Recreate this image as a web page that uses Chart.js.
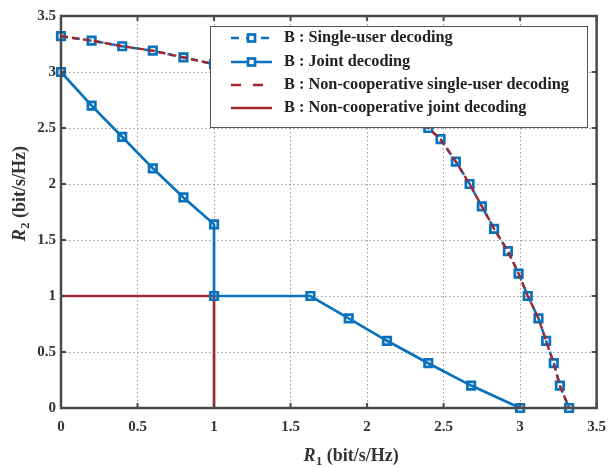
<!DOCTYPE html>
<html><head><meta charset="utf-8">
<script src="https://cdn.jsdelivr.net/npm/chart.js@4/dist/chart.umd.min.js"></script>
<style>html,body{margin:0;padding:0;background:#fff;}canvas{display:block}</style>
</head><body>
<canvas id="c" width="616" height="467"></canvas>
<script>
// ---- data ----
const X_TICKS = [0, 0.5, 1, 1.5, 2, 2.5, 3, 3.5];
const Y_TICKS = [0, 0.5, 1, 1.5, 2, 2.5, 3, 3.5];
const X_TICK_LABELS = ['0', '0.5', '1', '1.5', '2', '2.5', '3', '3.5'];
const Y_TICK_LABELS = ['0', '0.5', '1', '1.5', '2', '2.5', '3', '3.5'];
const SERIES_NAMES = [
  'B : Single-user decoding',
  'B : Joint decoding',
  'B : Non-cooperative single-user decoding',
  'B : Non-cooperative joint decoding'
];
const X_TITLE = ['R', '1', ' (bit/s/Hz)'];
const Y_TITLE = ['R', '2', ' (bit/s/Hz)'];

// B : Single-user decoding
const SU_X = [0, 0.2, 0.4, 0.6, 0.8, 1.0, 1.2, 1.4, 1.6, 1.8, 2.0, 2.2, 2.4, 2.48, 2.58, 2.67, 2.75, 2.83, 2.92, 2.99, 3.05, 3.12, 3.17, 3.22, 3.26, 3.32];
const SU_Y = [3.32, 3.28, 3.23, 3.19, 3.13, 3.07, 3.01, 2.94, 2.87, 2.79, 2.71, 2.62, 2.5, 2.4, 2.2, 2.0, 1.8, 1.6, 1.4, 1.2, 1.0, 0.8, 0.6, 0.4, 0.2, 0];
// B : Joint decoding
const JD_X = [0, 0.2, 0.4, 0.6, 0.8, 1.0, 1.0, 1.63, 1.88, 2.13, 2.4, 2.68, 3.0];
const JD_Y = [3.0, 2.7, 2.42, 2.14, 1.88, 1.64, 1.0, 1.0, 0.8, 0.6, 0.4, 0.2, 0];
// B : Non-cooperative single-user decoding
const NCSU_X = [0, 0.2, 0.4, 0.6, 0.8, 1.0, 1.2, 1.4, 1.6, 1.8, 2.0, 2.2, 2.4, 2.48, 2.58, 2.67, 2.75, 2.83, 2.92, 2.99, 3.05, 3.12, 3.17, 3.22, 3.26, 3.32];
const NCSU_Y = [3.32, 3.28, 3.23, 3.19, 3.13, 3.07, 3.01, 2.94, 2.87, 2.79, 2.71, 2.62, 2.5, 2.4, 2.2, 2.0, 1.8, 1.6, 1.4, 1.2, 1.0, 0.8, 0.6, 0.4, 0.2, 0];
// B : Non-cooperative joint decoding
const NCJ_X = [0, 1, 1];
const NCJ_Y = [1, 1, 0];

// ---- styles ----
const BLUE = '#0a72bd';
const RED = '#a2282d';
const AXIS = '#4a4a4a';
const FONT = '"Liberation Serif", "Times New Roman", serif';

const pts = (xs, ys) => xs.map((x, i) => ({x: x, y: ys[i]}));

const overlay = {
  id: 'overlay',
  afterDatasetsDraw(chart) {
    const ctx = chart.ctx;
    const a = chart.chartArea;
    const xs = chart.scales.x, ys = chart.scales.y;
    ctx.save();
    // legend box
    const lx = 210, ly = 26, lw = 377, lh = 101;
    ctx.fillStyle = '#fff';
    ctx.fillRect(lx, ly, lw, lh);
    ctx.strokeStyle = '#555';
    ctx.lineWidth = 1;
    ctx.strokeRect(lx + 0.5, ly + 0.5, lw, lh);
    const rows = [38, 62, 85, 108];
    const ds = chart.data.datasets;
    const entries = [
      {ds: ds[1], dash: [8, 7], marker: true},
      {ds: ds[2], dash: [], marker: true},
      {ds: ds[0], dash: [10, 12], marker: false},
      {ds: ds[3], dash: [], marker: false}
    ];
    entries.forEach((e, i) => {
      const y = rows[i];
      ctx.strokeStyle = e.ds.borderColor;
      ctx.lineWidth = 2.7;
      ctx.setLineDash(e.dash);
      ctx.beginPath();
      ctx.moveTo(231, y);
      ctx.lineTo(272, y);
      ctx.stroke();
      ctx.setLineDash([]);
      if (e.marker) {
        ctx.lineWidth = 2.7;
        ctx.fillStyle = '#fff';
        ctx.fillRect(248, y - 3.5, 7, 7);
        ctx.strokeRect(248, y - 3.5, 7, 7);
      }
      ctx.fillStyle = '#222';
      ctx.font = 'bold 16.3px ' + FONT;
      ctx.textBaseline = 'middle';
      ctx.textAlign = 'left';
      ctx.fillText(e.ds.label, 284, y);
    });
    // frame
    ctx.strokeStyle = AXIS;
    ctx.lineWidth = 2.5;
    ctx.strokeRect(a.left, a.top, a.right - a.left, a.bottom - a.top);
    // inward ticks
    ctx.lineWidth = 2;
    X_TICKS.forEach(v => {
      const px = xs.getPixelForValue(v);
      ctx.beginPath();
      ctx.moveTo(px, a.bottom); ctx.lineTo(px, a.bottom - 5);
      ctx.moveTo(px, a.top); ctx.lineTo(px, a.top + 5);
      ctx.stroke();
    });
    Y_TICKS.forEach(v => {
      const py = ys.getPixelForValue(v);
      ctx.beginPath();
      ctx.moveTo(a.left, py); ctx.lineTo(a.left + 5, py);
      ctx.moveTo(a.right, py); ctx.lineTo(a.right - 5, py);
      ctx.stroke();
    });
    // axis titles
    const drawTitle = (parts) => {
      ctx.font = 'italic bold 18px ' + FONT;
      const w0 = ctx.measureText(parts[0]).width;
      ctx.font = 'bold 12.5px ' + FONT;
      const w1 = ctx.measureText(parts[1]).width;
      ctx.font = 'bold 18px ' + FONT;
      const w2 = ctx.measureText(parts[2]).width;
      const tot = w0 + w1 + w2;
      let x = -tot / 2;
      ctx.fillStyle = '#333';
      ctx.textAlign = 'left';
      ctx.textBaseline = 'alphabetic';
      ctx.font = 'italic bold 18px ' + FONT;
      ctx.fillText(parts[0], x, 0); x += w0 + 0.5;
      ctx.font = 'bold 12.5px ' + FONT;
      ctx.fillText(parts[1], x, 4); x += w1;
      ctx.font = 'bold 18px ' + FONT;
      ctx.fillText(parts[2], x, 0);
    };
    ctx.save();
    ctx.translate((a.left + a.right) / 2 + 22, 461);
    drawTitle(X_TITLE);
    ctx.restore();
    ctx.save();
    ctx.translate(25, (a.top + a.bottom) / 2 - 18);
    ctx.rotate(-Math.PI / 2);
    drawTitle(Y_TITLE);
    ctx.restore();
    ctx.restore();
  }
};

new Chart(document.getElementById('c'), {
  type: 'scatter',
  data: {
    datasets: [
      {label: SERIES_NAMES[2], data: pts(NCSU_X, NCSU_Y), showLine: true, borderColor: RED, borderWidth: 2.4,
       borderDash: [7, 4], pointRadius: 0, order: 0, clip: false},
      {label: SERIES_NAMES[0], data: pts(SU_X, SU_Y), showLine: true, borderColor: BLUE, borderWidth: 2.5,
       borderDash: [7, 5], pointStyle: 'rect', pointRadius: 5.3, pointBorderWidth: 2.7,
       pointBorderColor: BLUE, pointBackgroundColor: 'rgba(0,0,0,0)', order: 1, clip: false},
      {label: SERIES_NAMES[1], data: pts(JD_X, JD_Y), showLine: true, borderColor: BLUE, borderWidth: 2.7,
       pointStyle: 'rect', pointRadius: 5.3, pointBorderWidth: 2.7,
       pointBorderColor: BLUE, pointBackgroundColor: 'rgba(0,0,0,0)', order: 2, clip: false},
      {label: SERIES_NAMES[3], data: pts(NCJ_X, NCJ_Y), showLine: true, borderColor: RED, borderWidth: 2.7,
       pointRadius: 0, order: 3, clip: false}
    ]
  },
  options: {
    responsive: false,
    animation: false,
    devicePixelRatio: 1,
    layout: {padding: {left: 0, top: 16, right: 16, bottom: 0}},
    plugins: {legend: {display: false}, tooltip: {enabled: false}},
    elements: {line: {tension: 0}},
    scales: {
      x: {
        type: 'linear', min: 0, max: 3.5,
        afterBuildTicks: s => { s.ticks = X_TICKS.map(v => ({value: v})); },
        afterFit: s => { s.height = 59; },
        ticks: {callback: (v, i) => X_TICK_LABELS[i], color: '#333', padding: 10, maxRotation: 0,
                font: {family: FONT, size: 15, weight: 'bold'}},
        grid: {color: '#9a9a9a', lineWidth: 1, drawTicks: false},
        border: {display: false, dash: [1.5, 2.5]}
      },
      y: {
        type: 'linear', min: 0, max: 3.5,
        afterBuildTicks: s => { s.ticks = Y_TICKS.map(v => ({value: v})); },
        afterFit: s => { s.width = 61; },
        ticks: {callback: (v, i) => Y_TICK_LABELS[i], color: '#333', padding: 5,
                font: {family: FONT, size: 15, weight: 'bold'}},
        grid: {color: '#9a9a9a', lineWidth: 1, drawTicks: false},
        border: {display: false, dash: [1.5, 2.5]}
      }
    }
  },
  plugins: [overlay]
});
</script>
</body></html>
